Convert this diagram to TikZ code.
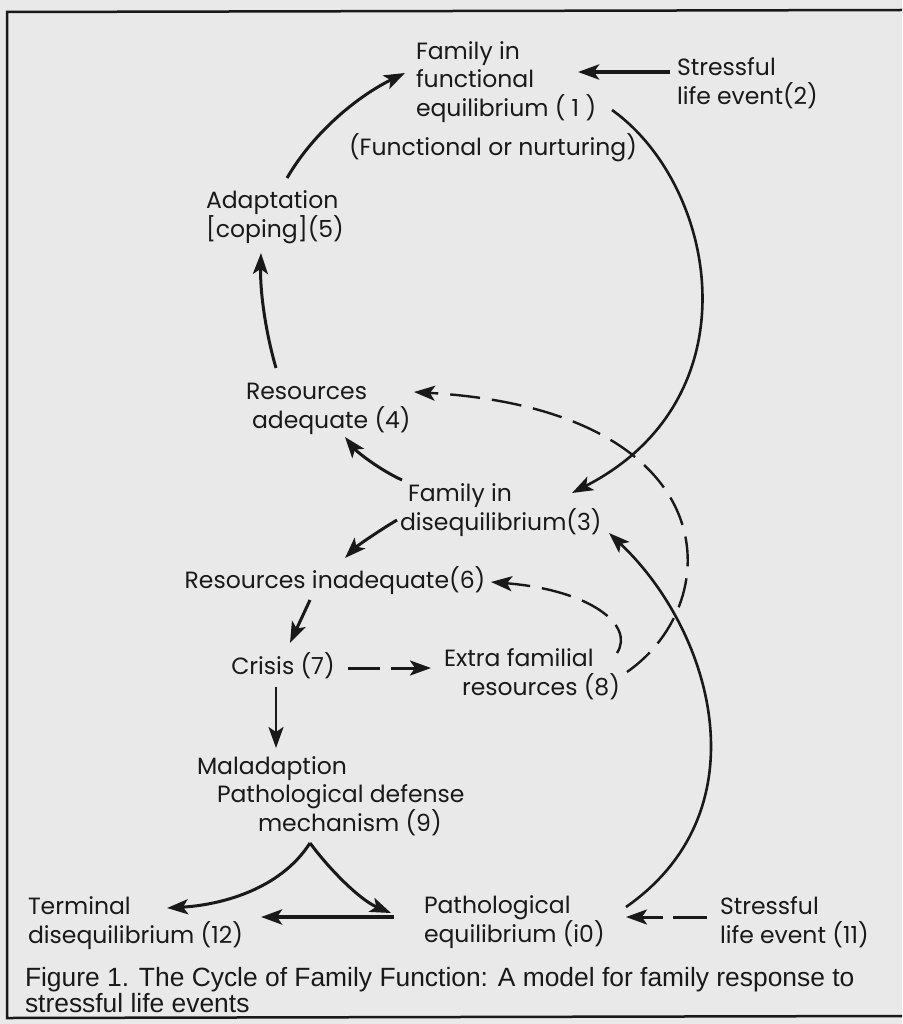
\documentclass[tikz,border=0pt]{standalone}
\usepackage{fontspec}
\setmainfont{Liberation Sans}
\newfontfamily\diagfont{Poppins}
\usetikzlibrary{arrows.meta}
\definecolor{paper}{RGB}{233,233,233}
\definecolor{ink}{RGB}{25,25,25}

\begin{document}
\begin{tikzpicture}[x=1pt, y=-1pt, outer sep=0pt]
  \tikzstyle{stage}=[
    inner sep=1pt,
    align=left,
    anchor=west,
    text=ink,
    font=\diagfont\fontsize{23.5}{28.5}\selectfont
  ]
  \tikzstyle{arrow} = [line width=3pt, ->, >={Stealth[length=21pt,width=15pt,inset=5pt]}, draw=ink]
  \tikzstyle{dasharrow} = [arrow, line width=2.4pt, dash pattern=on 30pt off 12pt]

  \useasboundingbox (0,0) rectangle (902,1024);
  \fill[paper] (0,0) rectangle (902,1024);
  \draw[ink, line width=2.5pt] (902,10) -- (7,12) -- (7,1018) -- (902,1016);

  \node[stage] (equil1) at (415,82) {Family in\\functional\\equilibrium ( 1 )};
  \node[stage, anchor=center] (nurture) at (493,148) {(Functional or nurturing)};
  \node[stage] (stress2) at (676,83) {Stressful\\life event(2)};
  \draw[arrow, line width=4.5pt] ([shift={(-6,-11)}]stress2.west) -- ([shift={(163,-10)}]equil1.west);

  \node[stage] (adapt5) at (205,217) {Adaptation\\{[coping](5)}};
  \draw[arrow] ([shift={(82,-39)}]adapt5.west) .. controls +(28,-48) and +(-45,22) .. ([shift={(-10,-9)}]equil1.west);

  \node[stage] (adeq4) at (245,409) {Resources\\\hspace*{6pt}adequate (4)};
  \draw[arrow] ([shift={(31,-41)}]adeq4.west) .. controls +(-11,-38) and +(-1,37) .. ([shift={(56,36)}]adapt5.west);

  \node[stage] (diseq3) at (399,510) {\hspace*{8pt}Family in\\disequilibrium(3)};
  \draw[arrow, line width=2.6pt] ([shift={(197,28)}]equil1.west) .. controls +(105,75) and +(185,-95) .. ([shift={(173,-17)}]diseq3.west);
  \draw[arrow] ([shift={(3,-30)}]diseq3.west) .. controls +(-22,-10) and +(12,15) .. ([shift={(100,28)}]adeq4.west);

  \node[stage, anchor=center] (inadeq6) at (335,581) {Resources inadequate(6)};
  \draw[arrow] ([shift={(-2,10)}]diseq3.west) .. controls +(-20,12) and +(12,-12) .. ([shift={(10,-23)}]inadeq6.center);

  \node[stage, anchor=center] (crisis7) at (283,666) {Crisis (7)};
  \draw[arrow] ([shift={(-25,19)}]inadeq6.center) -- ([shift={(7,-23)}]crisis7.center);

  \node[stage] (extra8) at (443,674) {Extra familial\\\hspace*{18pt}resources (8)};
  \draw[dasharrow, line width=3pt, dash pattern=on 32pt off 11pt] ([shift={(65,2)}]crisis7.center) -- ([shift={(-12,-6)}]extra8.west);
  \draw[dasharrow] ([shift={(174,-21)}]extra8.west) .. controls +(18,-28) and +(99,8) .. ([shift={(156,1)}]inadeq6.center);
  \draw[dasharrow] ([shift={(184,-2)}]extra8.west) .. controls +(103,-72) and +(311,18) .. ([shift={(169,-17)}]adeq4.west);

  \node[stage] (malad9) at (196,796) {Maladaption\\\hspace*{20pt}Pathological defense\\\hspace*{61pt}mechanism (9)};
  \draw[arrow, line width=2.4pt] ([shift={(-7,21)}]crisis7.center) -- ([shift={(80,-48)}]malad9.west);

  \node[stage] (term12) at (27,923) {Terminal\\disequilibrium (12)};
  \node[stage] (patho10) at (423,922) {Pathological\\equilibrium (i0)};
  \node[stage] (stress11) at (719,922) {Stressful\\life event (11)};
  \draw[arrow] ([shift={(114,47)}]malad9.west) .. controls +(-30,47) and +(53,-3) .. ([shift={(140,-15)}]term12.west);
  \draw[arrow] ([shift={(114,47)}]malad9.west) .. controls +(20,27) and +(-31,-13) .. ([shift={(-32,-9)}]patho10.west);
  \draw[arrow, line width=4pt] ([shift={(-29,-5)}]patho10.west) -- ([shift={(234,-6)}]term12.west);
  \draw[arrow, line width=2.6pt] ([shift={(203,-15)}]patho10.west) .. controls +(139,-97) and +(103,97) .. ([shift={(210,23)}]diseq3.west);
  \draw[dasharrow, line width=3pt, dash pattern=on 34pt off 10pt] ([shift={(-12,-5)}]stress11.west) -- ([shift={(203,-5)}]patho10.west);

  \node[stage, font=\fontsize{26.4}{26}\selectfont] (caption) at (24,990) {Figure 1. The Cycle of Family Function: A model for family response to\\stressful life events};
\end{tikzpicture}
\end{document}
